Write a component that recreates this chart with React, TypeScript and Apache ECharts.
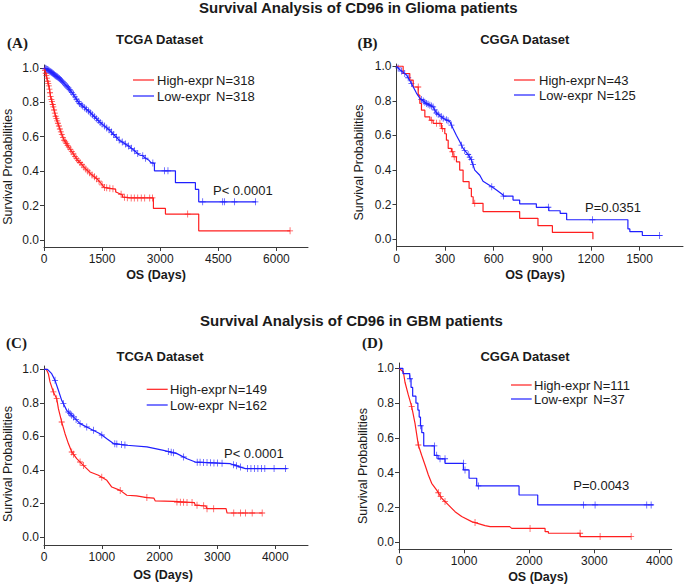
import React, { useEffect, useRef } from 'react';
import * as echarts from 'echarts';

// ---------------- Data ----------------
// Each curve: vertices [days, survival probability] of the Kaplan-Meier path
// Censor marks: days of censored patients (placed on the curve)

// (A) Glioma, TCGA
const A_HIGH_PATH: [number, number][] = [
  [0, 1.0], [20, 0.99], [43, 0.97], [86, 0.93], [130, 0.89], [173, 0.83], [216, 0.795], [259, 0.756],
  [302, 0.717], [345, 0.688], [388, 0.66], [431, 0.63], [475, 0.605], [518, 0.58], [604, 0.552],
  [690, 0.523], [777, 0.494], [863, 0.465], [949, 0.446], [1036, 0.422], [1122, 0.403], [1208, 0.384],
  [1295, 0.368], [1381, 0.353], [1467, 0.33], [1553, 0.306], [1850, 0.295], [1850, 0.28], [1900, 0.275],
  [2028, 0.262], [2028, 0.25], [2200, 0.245], [2825, 0.245], [2825, 0.184], [3135, 0.184], [3135, 0.151],
  [3994, 0.151], [3994, 0.054], [6352, 0.054],
];
const A_HIGH_CENSOR = [
  25, 45, 60, 75, 95, 110, 125, 140, 155, 170, 190, 205, 225, 240, 260, 280, 300, 320, 340, 360, 385, 410,
  435, 460, 490, 520, 550, 580, 610, 640, 680, 720, 760, 800, 840, 880, 930, 980, 1030, 1080, 1130, 1180,
  1240, 1300, 1360, 1420, 1500, 1560, 1620, 1700, 1780, 1990, 2080, 2150, 2250, 2330, 2420, 2510, 2600,
  2730, 2800, 3710, 6352,
];
const A_LOW_PATH: [number, number][] = [
  [0, 1.0], [86, 0.99], [216, 0.97], [302, 0.953], [388, 0.94], [475, 0.92], [561, 0.9], [647, 0.878],
  [734, 0.853], [820, 0.824], [906, 0.795], [1036, 0.771], [1165, 0.746], [1295, 0.717], [1424, 0.688],
  [1553, 0.663], [1683, 0.64], [1812, 0.61], [1942, 0.58], [2071, 0.562], [2200, 0.543], [2330, 0.52],
  [2460, 0.494], [2550, 0.49], [2620, 0.475], [2700, 0.465], [2760, 0.45], [2851, 0.445], [2851, 0.402],
  [3393, 0.402], [3393, 0.333], [3909, 0.333], [3909, 0.294], [3994, 0.294], [3994, 0.222], [5475, 0.222],
];
const A_LOW_CENSOR = [
  30, 50, 70, 90, 110, 130, 150, 170, 190, 210, 230, 250, 270, 290, 310, 330, 350, 375, 400, 425, 450, 480,
  510, 540, 570, 600, 630, 660, 690, 720, 760, 800, 840, 880, 920, 960, 1000, 1050, 1100, 1150, 1200, 1250,
  1300, 1350, 1400, 1450, 1500, 1560, 1620, 1680, 1740, 1800, 1870, 1940, 2020, 2100, 2180, 2260, 2340,
  2420, 2550, 2620, 2810, 3110, 3200, 4097, 4613, 4657, 4915, 5457,
];

// (B) Glioma, CGGA
const B_HIGH_PATH: [number, number][] = [
  [0, 1], [41, 1], [41, 0.958], [82, 0.958], [82, 0.92], [103, 0.92], [103, 0.88], [134, 0.88], [134, 0.833],
  [144, 0.833], [144, 0.785], [154, 0.785], [154, 0.746], [175, 0.746], [175, 0.708], [206, 0.708], [206, 0.688],
  [226, 0.688], [226, 0.67], [277, 0.67], [277, 0.64], [298, 0.64], [298, 0.61], [308, 0.61], [308, 0.573],
  [319, 0.573], [319, 0.525], [339, 0.525], [339, 0.506], [349, 0.506], [349, 0.477], [370, 0.477], [370, 0.448],
  [390, 0.448], [390, 0.4], [411, 0.4], [411, 0.333], [448, 0.333], [448, 0.294], [462, 0.294], [462, 0.246],
  [473, 0.246], [473, 0.208], [534, 0.208], [534, 0.16], [760, 0.16], [760, 0.121], [873, 0.121], [873, 0.079],
  [962, 0.079], [962, 0.04], [1212, 0.04], [1212, 0],
];
const B_HIGH_CENSOR = [134, 216, 247, 268, 284, 345, 356, 483];
const B_LOW_PATH: [number, number][] = [
  [0, 1], [21, 0.98], [62, 0.95], [92, 0.9], [123, 0.845], [144, 0.815], [185, 0.785], [226, 0.765], [247, 0.73],
  [288, 0.7], [329, 0.68], [349, 0.64], [370, 0.6], [390, 0.565], [411, 0.525], [442, 0.49], [462, 0.46],
  [483, 0.4], [514, 0.37], [534, 0.335], [586, 0.305], [617, 0.285], [658, 0.256], [658, 0.25], [719, 0.25],
  [719, 0.227], [760, 0.227], [760, 0.205], [863, 0.205], [863, 0.185], [940, 0.185], [940, 0.165],
  [1010, 0.165], [1010, 0.15], [1050, 0.15], [1050, 0.113], [1428, 0.113], [1428, 0.06], [1440, 0.06],
  [1440, 0.044], [1517, 0.044], [1517, 0.022], [1624, 0.022],
];
const B_LOW_CENSOR = [
  10, 31, 51, 72, 92, 154, 165, 175, 185, 195, 206, 216, 226, 236, 247, 257, 277, 288, 308, 318, 339, 401,
  421, 442, 452, 462, 472, 588, 660, 937, 1209, 1624,
];

// (C) GBM, TCGA
const C_HIGH_PATH: [number, number][] = [
  [0, 1], [40, 1], [75, 0.974], [104, 0.925], [162, 0.865], [220, 0.825], [249, 0.765], [306, 0.686],
  [364, 0.616], [422, 0.557], [480, 0.507], [566, 0.467], [682, 0.427], [798, 0.388], [942, 0.368],
  [1087, 0.338], [1173, 0.298], [1318, 0.278], [1433, 0.249], [1600, 0.245], [1780, 0.235], [1900, 0.232],
  [1925, 0.215], [2243, 0.212], [2250, 0.209], [2600, 0.205], [2618, 0.19], [2800, 0.185], [2820, 0.169],
  [3150, 0.169], [3167, 0.143], [3774, 0.143],
];
const C_HIGH_CENSOR = [
  162, 220, 306, 480, 510, 624, 682, 1000, 1318, 1780, 2300, 2358, 2416, 2474, 2561, 2647, 2763, 2820, 2936,
  3283, 3399, 3485, 3601, 3774,
];
const C_LOW_PATH: [number, number][] = [
  [0, 1], [60, 1], [133, 0.974], [191, 0.934], [249, 0.875], [306, 0.815], [393, 0.755], [509, 0.716],
  [624, 0.676], [798, 0.646], [971, 0.616], [1087, 0.586], [1202, 0.557], [1433, 0.547], [1780, 0.537],
  [2069, 0.517], [2300, 0.497], [2474, 0.467], [2618, 0.447], [3225, 0.437], [3398, 0.417], [3485, 0.408],
  [4208, 0.408],
];
const C_LOW_CENSOR = [
  191, 335, 422, 450, 480, 509, 555, 624, 740, 855, 1000, 1225, 1260, 1340, 1400, 2150, 2200, 2240, 2416,
  2650, 2700, 2760, 2820, 2880, 2940, 3000, 3080, 3280, 3330, 3400, 3520, 3580, 3640, 3700, 3760, 3820,
  3980, 4180,
];

// (D) GBM, CGGA
const D_HIGH_PATH: [number, number][] = [
  [0, 1], [67, 0.98], [92, 0.92], [143, 0.847], [195, 0.78], [246, 0.684], [297, 0.559], [348, 0.5],
  [400, 0.444], [451, 0.387], [502, 0.339], [579, 0.3], [656, 0.253], [758, 0.215], [861, 0.176],
  [963, 0.148], [1117, 0.119], [1322, 0.096], [1400, 0.09], [1700, 0.09], [1732, 0.08], [2244, 0.08],
  [2244, 0.061], [2295, 0.061], [2295, 0.052], [2782, 0.052], [2782, 0.033], [3566, 0.033],
];
const D_HIGH_CENSOR = [195, 297, 604, 640, 707, 1168, 2013, 2782, 3089, 3566];
const D_LOW_PATH: [number, number][] = [
  [0, 1], [60, 1], [60, 0.97], [165, 0.97], [165, 0.94], [185, 0.94], [185, 0.89], [210, 0.89], [210, 0.84],
  [260, 0.84], [260, 0.8], [290, 0.8], [290, 0.76], [310, 0.76], [310, 0.72], [330, 0.72], [330, 0.67],
  [350, 0.67], [350, 0.63], [380, 0.63], [380, 0.554], [543, 0.554], [543, 0.5], [600, 0.5], [600, 0.48],
  [707, 0.48], [707, 0.454], [989, 0.454], [989, 0.416], [1076, 0.416], [1076, 0.368], [1194, 0.368],
  [1194, 0.324], [1844, 0.324], [1844, 0.272], [2131, 0.272], [2131, 0.215], [3909, 0.215],
];
const D_LOW_CENSOR = [169, 333, 543, 579, 630, 707, 989, 1014, 1219, 2833, 3012, 3806, 3873];

// Tick labels
const A_X_TICKS = [0, 1500, 3000, 4500, 6000];
const B_X_TICKS = [0, 300, 600, 900, 1200, 1500];
const CD_X_TICKS = [0, 1000, 2000, 3000, 4000];
const Y_TICKS = [0, 0.2, 0.4, 0.6, 0.8, 1.0];

// Texts
const MAIN_TITLES = ['Survival Analysis of CD96 in Glioma patients', 'Survival Analysis of CD96 in GBM patients'];
const GROUP_LABELS = ['High-expr', 'Low-expr'];
const A_N = ['N=318', 'N=318'];
const B_N = ['N=43', 'N=125'];
const C_N = ['N=149', 'N=162'];
const D_N = ['N=111', 'N=37'];
const P_TEXTS = ['P< 0.0001', 'P=0.0351', 'P< 0.0001', 'P=0.0043'];
const DATASETS = ['TCGA Dataset', 'CGGA Dataset', 'TCGA Dataset', 'CGGA Dataset'];
const LETTERS = ['(A)', '(B)', '(C)', '(D)'];
const X_NAME = 'OS (Days)';
const Y_NAME = 'Survival Probabilities';

// ---------------- Layout / style ----------------
const RED = '#ff1f1f';
const BLUE = '#1f1fff';
const SANS = '"Liberation Sans", Arial, sans-serif';
const SERIF = '"Liberation Serif", "Times New Roman", serif';
const PLUS = 'path://M4.4,0H5.6V4.4H10V5.6H5.6V10H4.4V5.6H0V4.4H4.4Z';

const LAYOUTS = [
  {
    grid: { left: 44, top: 65, width: 264, height: 182 }, xMax: 6815, yMin: -0.04, yMax: 1.016,
    letter: [17.5, 43], sub: [159.5, 39.3], yName: [8.3, 166.7], xName: [156, 275], p: [213, 190],
    leg: { x1: 133, x2: 154, y1: 80, y2: 96, tx: 157, nx: 216 },
  },
  {
    grid: { left: 396.5, top: 64, width: 286.5, height: 182.7 }, xMax: 1768, yMin: -0.0427, yMax: 1.013,
    letter: [367.5, 42.7], sub: [524.7, 39.3], yName: [358.7, 162.5], xName: [535, 275], p: [585, 207],
    leg: { x1: 514, x2: 535, y1: 80, y2: 95, tx: 539, nx: 597 },
  },
  {
    grid: { left: 44, top: 366, width: 264, height: 179 }, xMax: 4567, yMin: -0.0477, yMax: 1.0197,
    letter: [16.5, 343.3], sub: [160, 356.7], yName: [7.7, 464], xName: [163, 575], p: [224, 453.3],
    leg: { x1: 146.7, x2: 167.7, y1: 389.3, y2: 405, tx: 170, nx: 228.3 },
  },
  {
    grid: { left: 399, top: 363, width: 272.7, height: 186.3 }, xMax: 4189, yMin: -0.0402, yMax: 1.0305,
    letter: [372.5, 343.3], sub: [525, 356], yName: [363, 466], xName: [538, 576.7], p: [573.3, 485],
    leg: { x1: 511, x2: 531.7, y1: 385, y2: 399, tx: 534, nx: 593.3 },
  },
];

const PANELS = [
  { high: A_HIGH_PATH, highC: A_HIGH_CENSOR, low: A_LOW_PATH, lowC: A_LOW_CENSOR, xTicks: A_X_TICKS, n: A_N },
  { high: B_HIGH_PATH, highC: B_HIGH_CENSOR, low: B_LOW_PATH, lowC: B_LOW_CENSOR, xTicks: B_X_TICKS, n: B_N },
  { high: C_HIGH_PATH, highC: C_HIGH_CENSOR, low: C_LOW_PATH, lowC: C_LOW_CENSOR, xTicks: CD_X_TICKS, n: C_N },
  { high: D_HIGH_PATH, highC: D_HIGH_CENSOR, low: D_LOW_PATH, lowC: D_LOW_CENSOR, xTicks: CD_X_TICKS, n: D_N },
];

// survival on the drawn curve at time t (for placing censor marks on it)
function yAt(path: [number, number][], t: number): number {
  for (let i = 0; i < path.length - 1; i++) {
    const [x0, y0] = path[i];
    const [x1, y1] = path[i + 1];
    if (x1 > x0 && t >= x0 && t <= x1) return y0 + ((y1 - y0) * (t - x0)) / (x1 - x0);
  }
  return path[path.length - 1][1];
}

function buildOption() {
  const grid: any[] = [];
  const xAxis: any[] = [];
  const yAxis: any[] = [];
  const series: any[] = [];
  const graphic: any[] = [];
  const axisColor = '#3a3a3a';
  const labelColor = '#1a1a1a';

  const text = (t: string, x: number, y: number, font: string, align = 'center', extra: any = {}) => ({
    type: 'text', x, y, silent: true, ...extra,
    style: { text: t, font, align, verticalAlign: 'middle', fill: labelColor },
  });

  MAIN_TITLES.forEach((t, i) => {
    graphic.push(text(t, i === 0 ? 199 : 200, i === 0 ? 7 : 320, `bold 15px ${SANS}`, 'left'));
  });

  PANELS.forEach((p, i) => {
    const L = LAYOUTS[i];
    grid.push({ ...L.grid, containLabel: false });
    xAxis.push({
      type: 'value', gridIndex: i, min: 0, max: L.xMax,
      axisLine: { onZero: false, lineStyle: { color: axisColor, width: 1 } },
      axisTick: { customValues: p.xTicks, length: 4, lineStyle: { color: axisColor } },
      axisLabel: {
        customValues: p.xTicks, fontSize: 12, fontFamily: SANS, color: labelColor, margin: 6,
        formatter: (v: number) => String(v),
      },
      splitLine: { show: false },
    });
    yAxis.push({
      type: 'value', gridIndex: i, min: L.yMin, max: L.yMax,
      axisLine: { show: true, onZero: false, lineStyle: { color: axisColor, width: 1 } },
      axisTick: { show: true, customValues: Y_TICKS, length: 4, lineStyle: { color: axisColor } },
      axisLabel: {
        customValues: Y_TICKS, fontSize: 12, fontFamily: SANS, color: labelColor, margin: 5,
        formatter: (v: number) => v.toFixed(1),
      },
      splitLine: { show: false },
    });
    const curves = [
      { path: p.high, cens: p.highC, color: RED, name: GROUP_LABELS[0] },
      { path: p.low, cens: p.lowC, color: BLUE, name: GROUP_LABELS[1] },
    ];
    curves.forEach((c) => {
      series.push({
        type: 'line', name: c.name, xAxisIndex: i, yAxisIndex: i, data: c.path,
        showSymbol: false, symbol: 'none', silent: true,
        lineStyle: { color: c.color, width: 1.2 },
      });
      series.push({
        type: 'scatter', name: c.name + ' censored', xAxisIndex: i, yAxisIndex: i, silent: true,
        data: c.cens.map((t) => [t, yAt(c.path, t)]),
        symbol: PLUS, symbolSize: [6, 7], itemStyle: { color: c.color, opacity: 0.85 },
      });
    });

    // panel texts
    graphic.push(text(LETTERS[i], L.letter[0], L.letter[1], `bold 15px ${SERIF}`));
    graphic.push(text(DATASETS[i], L.sub[0], L.sub[1], `bold 13px ${SANS}`));
    graphic.push(text(X_NAME, L.xName[0], L.xName[1], `bold 12.5px ${SANS}`));
    graphic.push(text(Y_NAME, L.yName[0], L.yName[1], `12.5px ${SANS}`, 'center', { rotation: Math.PI / 2 }));
    graphic.push(text(P_TEXTS[i], L.p[0], L.p[1], `13px ${SANS}`, 'left'));

    // legend
    const lg = L.leg;
    [
      { y: lg.y1, color: RED, label: GROUP_LABELS[0], n: p.n[0] },
      { y: lg.y2, color: BLUE, label: GROUP_LABELS[1], n: p.n[1] },
    ].forEach((row) => {
      graphic.push({
        type: 'line', silent: true,
        shape: { x1: lg.x1, y1: row.y, x2: lg.x2, y2: row.y },
        style: { stroke: row.color, lineWidth: 1.2 },
      });
      graphic.push(text(row.label, lg.tx, row.y, `13px ${SANS}`, 'left'));
      graphic.push(text(row.n, lg.nx, row.y, `13px ${SANS}`, 'left'));
    });
  });

  return {
    animation: false,
    backgroundColor: '#ffffff',
    grid, xAxis, yAxis, series, graphic,
  };
}

export default function App() {
  const ref = useRef<HTMLDivElement>(null);
  useEffect(() => {
    document.body.style.margin = '0';
    if (!ref.current) return;
    const chart = echarts.init(ref.current, undefined, { renderer: 'svg' });
    chart.setOption(buildOption() as any);
    return () => chart.dispose();
  }, []);
  return <div ref={ref} style={{ width: 685, height: 585 }} />;
}
